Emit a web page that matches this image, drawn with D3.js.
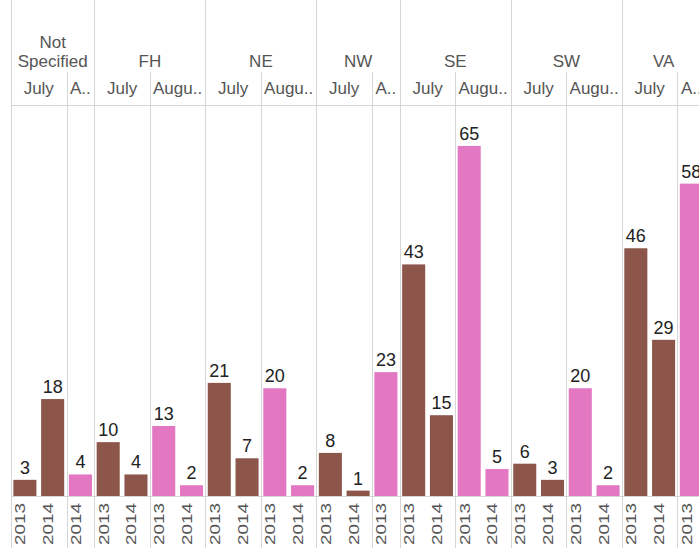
<!DOCTYPE html>
<html>
<head>
<meta charset="utf-8">
<script src="https://cdn.jsdelivr.net/npm/d3@7"></script>
<style>
  body { margin: 0; background: #fff; overflow: hidden; }
  text { font-family: "Liberation Sans", Arial, sans-serif; }
</style>
</head>
<body>
<div id="viz"></div>
<script>
const regions = ["Not Specified", "FH", "NE", "NW", "SE", "SW", "VA"];
const months = ["July", "August"];
const years = ["2013", "2014"];
// one pair [2013, 2014] per region, null where the year has no bar
const julyValues = [[3, 18], [10, 4], [21, 7], [8, 1], [43, 15], [6, 3], [46, 29]];
const augustValues = [[null, 4], [13, 2], [20, 2], [23, null], [65, 5], [20, 2], [58, null]];
const monthColors = { July: "#8c564b", August: "#e377c2" };

const width = 699, height = 548;
const margin = { left: 11, top: 105 };
const plotBottom = 496;
const slot = 27.77;
const lineColor = "#d6d6d6";

// flatten into leaf columns
const leaves = [];
regions.forEach((r, ri) => {
  months.forEach(m => {
    const vals = m === "July" ? julyValues[ri] : augustValues[ri];
    years.forEach((yr, yi) => {
      if (vals[yi] != null) {
        leaves.push({ region: r, month: m, year: yr, value: vals[yi], key: `${r}|${m}|${yr}` });
      }
    });
  });
});

const svg = d3.select("#viz").append("svg")
  .attr("width", width)
  .attr("height", height);

const x = d3.scaleBand()
  .domain(leaves.map(d => d.key))
  .range([margin.left, margin.left + slot * leaves.length])
  .paddingInner(0.17)
  .paddingOuter(0.085);

const y = d3.scaleLinear()
  .domain([0, 72.6])
  .range([plotBottom, margin.top]);

const slotStart = d => x(d.key) - (x.step() - x.bandwidth()) / 2;

const regionCells = regions.map(r => {
  const ls = leaves.filter(d => d.region === r);
  return { name: r, x0: slotStart(ls[0]), x1: slotStart(ls[ls.length - 1]) + x.step() };
});
const monthCells = [];
regions.forEach(r => {
  months.forEach((m, mi) => {
    const ls = leaves.filter(d => d.region === r && d.month === m);
    if (ls.length) {
      monthCells.push({ name: m, first: mi > 0, x0: slotStart(ls[0]), x1: slotStart(ls[ls.length - 1]) + x.step() });
    }
  });
});

// grid lines
const grid = svg.append("g").attr("stroke", lineColor).attr("stroke-width", 1);
grid.append("line")
  .attr("x1", margin.left).attr("x2", width)
  .attr("y1", margin.top + 0.5).attr("y2", margin.top + 0.5);
grid.append("line")
  .attr("x1", margin.left).attr("x2", width)
  .attr("y1", plotBottom + 0.5).attr("y2", plotBottom + 0.5);

grid.selectAll(".region-line")
  .data(regionCells.map(c => c.x0).concat([regionCells[regionCells.length - 1].x1]))
  .enter().append("line")
  .attr("x1", d => Math.round(d) + 0.5).attr("x2", d => Math.round(d) + 0.5)
  .attr("y1", 0).attr("y2", height);

grid.selectAll(".month-line")
  .data(monthCells.filter(c => c.first))
  .enter().append("line")
  .attr("x1", d => Math.round(d.x0) + 0.5).attr("x2", d => Math.round(d.x0) + 0.5)
  .attr("y1", 72).attr("y2", height);

// text helpers
function truncate(sel, maxW) {
  sel.each(function () {
    const node = this;
    const full = node.textContent;
    if (node.getComputedTextLength() <= maxW) return;
    for (let n = full.length - 1; n >= 1; n--) {
      node.textContent = full.slice(0, n) + "..";
      if (node.getComputedTextLength() <= maxW || n === 1) break;
    }
  });
}

function wrapUp(sel, maxW, lineH) {
  sel.each(function () {
    const t = d3.select(this);
    if (this.getComputedTextLength() <= maxW) return;
    const words = t.text().split(/\s+/);
    const cx = t.attr("x"), by = +t.attr("y");
    t.text(null);
    const lines = [];
    let cur = [];
    const probe = t.append("tspan");
    words.forEach(w => {
      probe.text(cur.concat([w]).join(" "));
      if (cur.length && probe.node().getComputedTextLength() > maxW) {
        lines.push(cur.join(" "));
        cur = [w];
      } else cur.push(w);
    });
    lines.push(cur.join(" "));
    probe.remove();
    lines.forEach((ln, i) => {
      t.append("tspan")
        .attr("x", cx)
        .attr("y", by - (lines.length - 1 - i) * lineH)
        .text(ln);
    });
  });
}

// region headers
svg.append("g").selectAll("text")
  .data(regionCells)
  .enter().append("text")
  .attr("x", d => (d.x0 + d.x1) / 2)
  .attr("y", 67)
  .attr("text-anchor", "middle")
  .attr("font-size", 17)
  .attr("fill", "#555")
  .text(d => d.name)
  .call(wrapUp, 76, 19);

// month headers
svg.append("g").selectAll("text")
  .data(monthCells)
  .enter().append("text")
  .attr("x", d => (d.x0 + d.x1) / 2)
  .attr("y", 94)
  .attr("text-anchor", "middle")
  .attr("font-size", 17)
  .attr("fill", "#555")
  .text(d => d.name)
  .each(function (d) { d3.select(this).call(truncate, d.x1 - d.x0 - 5); });

// bars
svg.append("g").selectAll("rect")
  .data(leaves)
  .enter().append("rect")
  .attr("x", d => x(d.key))
  .attr("y", d => y(d.value))
  .attr("width", x.bandwidth())
  .attr("height", d => plotBottom - y(d.value))
  .attr("fill", d => monthColors[d.month]);

// value labels
svg.append("g").selectAll("text")
  .data(leaves)
  .enter().append("text")
  .attr("x", d => x(d.key) + x.bandwidth() / 2)
  .attr("y", d => y(d.value) - 6)
  .attr("text-anchor", "middle")
  .attr("font-size", 18)
  .attr("fill", "#222")
  .text(d => d.value);

// year labels, rotated
svg.append("g").selectAll("text")
  .data(leaves)
  .enter().append("text")
  .attr("transform", d => `translate(${x(d.key) + x.bandwidth() / 2 + 0.5},545) rotate(-90)`)
  .attr("text-anchor", "start")
  .attr("font-size", 15)
  .attr("fill", "#555")
  .attr("textLength", 42)
  .attr("lengthAdjust", "spacingAndGlyphs")
  .text(d => d.year);
</script>
</body>
</html>
